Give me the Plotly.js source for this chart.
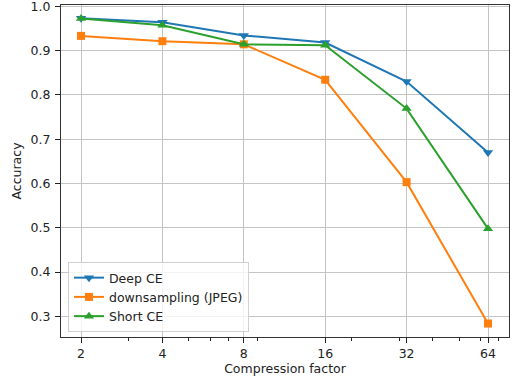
<!DOCTYPE html>
<html>
<head>
<meta charset="utf-8">
<script src="https://cdn.plot.ly/plotly-3.0.1.min.js"></script>
<style>
html,body{margin:0;padding:0;background:#fff;}
#chart{width:513px;height:383px;}
</style>
</head>
<body>
<div id="chart"></div>
<script>
var compression = [2, 4, 8, 16, 32, 64];
var deepCE = [0.973, 0.964, 0.934, 0.918, 0.830, 0.670];
var downsampling = [0.933, 0.921, 0.914, 0.834, 0.603, 0.284];
var shortCE = [0.972, 0.957, 0.914, 0.912, 0.769, 0.498];
var xTickLabels = ['2', '4', '8', '16', '32', '64'];
var xMinorTicks = [3, 5, 6, 7, 9, 20, 30, 40, 50, 60, 70];
var yTicks = [0.3, 0.4, 0.5, 0.6, 0.7, 0.8, 0.9, 1.0];
var yTickLabels = ['0.3', '0.4', '0.5', '0.6', '0.7', '0.8', '0.9', '1.0'];

var font = {family: 'DejaVu Sans', size: 12.5, color: '#222'};

var traces = [
  {x: compression, y: deepCE, name: 'Deep CE', mode: 'lines+markers',
   line: {color: '#1f77b4', width: 2},
   marker: {symbol: 'triangle-down', size: 9, color: '#1f77b4'}},
  {x: compression, y: downsampling, name: 'downsampling (JPEG)', mode: 'lines+markers',
   line: {color: '#ff7f0e', width: 2},
   marker: {symbol: 'square', size: 8, color: '#ff7f0e'}},
  {x: compression, y: shortCE, name: 'Short CE', mode: 'lines+markers',
   line: {color: '#2ca02c', width: 2},
   marker: {symbol: 'triangle-up', size: 9, color: '#2ca02c'}}
];

var layout = {
  width: 513, height: 383,
  margin: {l: 61, r: 4, t: 5, b: 46, pad: 0},
  paper_bgcolor: '#fff', plot_bgcolor: '#fff',
  font: font,
  showlegend: true,
  xaxis: {
    type: 'log',
    range: [Math.log10(2) - 0.246 * Math.log10(2), Math.log10(64) + 0.258 * Math.log10(2)],
    tickmode: 'array', tickvals: compression, ticktext: xTickLabels,
    ticks: 'outside', ticklen: 5, tickwidth: 1, tickcolor: '#222',
    ticklabelstandoff: 0, ticklabeloverflow: 'allow',
    showgrid: true, gridcolor: '#c4c4c4', gridwidth: 1,
    showline: true, linecolor: '#333', linewidth: 1, mirror: true,
    zeroline: false,
    minor: {tickmode: 'array', tickvals: xMinorTicks, ticks: 'outside', ticklen: 3, tickwidth: 1, tickcolor: '#222', showgrid: false},
    title: {text: 'Compression factor', font: font, standoff: 4},
    tickfont: font
  },
  yaxis: {
    range: [0.2536, 1.0027],
    tickmode: 'array', tickvals: yTicks, ticktext: yTickLabels,
    ticks: 'outside', ticklen: 5, tickwidth: 1, tickcolor: '#222',
    ticklabelstandoff: 2, ticklabeloverflow: 'allow',
    showgrid: true, gridcolor: '#c4c4c4', gridwidth: 1,
    showline: true, linecolor: '#333', linewidth: 1, mirror: true,
    zeroline: false,
    title: {text: 'Accuracy', font: font, standoff: 6},
    tickfont: font
  },
  legend: {
    x: 0.0156, y: 0.015, xanchor: 'left', yanchor: 'bottom',
    bgcolor: 'rgba(255,255,255,0.8)', bordercolor: '#d0d0d0', borderwidth: 1,
    font: font, tracegroupgap: 0, itemwidth: 30
  }
};

Plotly.newPlot('chart', traces, layout, {displayModeBar: false, staticPlot: true});
</script>
</body>
</html>
